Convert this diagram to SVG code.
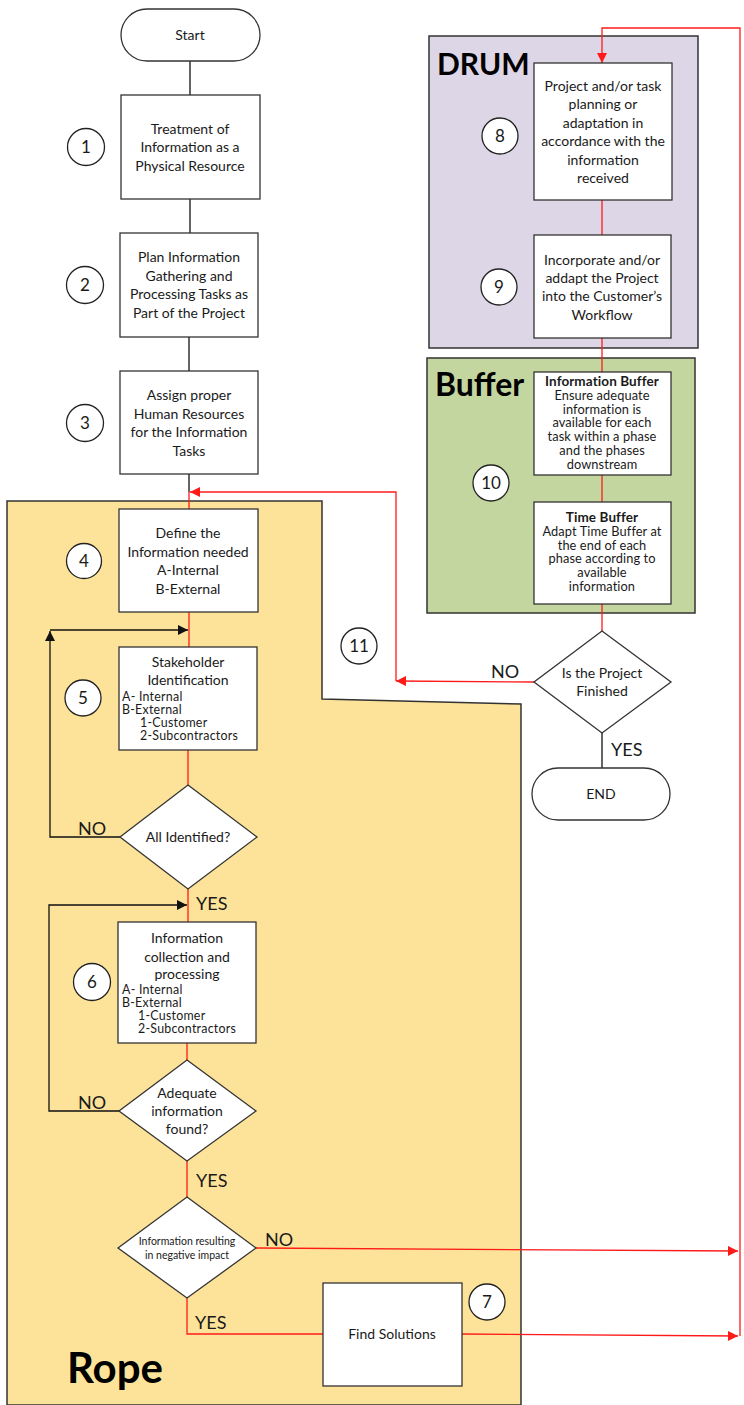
<svg xmlns="http://www.w3.org/2000/svg" width="744" height="1405" viewBox="0 0 744 1405">
  <defs>
    <style>
      text { font-family: Lato, "Open Sans", "Liberation Sans", sans-serif; fill: #1a1a1a; }
      .t { font-size: 14px; text-anchor: middle; }
      .tl { font-size: 12.4px; letter-spacing: 0.25px; }
      .ts { font-size: 12.8px; text-anchor: middle; letter-spacing: 0.1px; }
      .hb { font-size: 13.5px; font-weight: bold; }
      .tiny { font-size: 10.5px; text-anchor: middle; }
      .num { font-size: 17px; text-anchor: middle; }
      .lbl { font-size: 18px; }
      .big { font-weight: bold; fill: #000; }
      .box { fill: #fff; stroke: #333; stroke-width: 1.3; }
      .circ { fill: #fff; stroke: #222; stroke-width: 1.3; }
      .blk { fill: none; stroke: #111; stroke-width: 1.3; }
      .red { fill: none; stroke: #ff1a1a; stroke-width: 1.3; }
    </style>
    <marker id="ahRed" viewBox="0 0 10 10" refX="10" refY="5" markerWidth="14" markerHeight="10" markerUnits="userSpaceOnUse" orient="auto">
      <path d="M0,0 L10,5 L0,10 z" fill="#ff1a1a"/>
    </marker>
    <marker id="ahBlk" viewBox="0 0 10 10" refX="10" refY="5" markerWidth="14" markerHeight="10" markerUnits="userSpaceOnUse" orient="auto">
      <path d="M0,0 L10,5 L0,10 z" fill="#111"/>
    </marker>
  </defs>

  <rect width="744" height="1405" fill="#fff"/>

  <!-- swimlane regions -->
  <g id="rope-region">
    <path d="M7,501 L322,501 L322,699 L521,704 L521,1405 L7,1405 Z" fill="#fde399" stroke="#333" stroke-width="1.5"/>
    <text x="67" y="1383" class="big" font-size="42">Rope</text>
  </g>
  <g id="drum-region">
    <rect x="429" y="36" width="269" height="312" fill="#ddd6e6" stroke="#333" stroke-width="1.5"/>
    <text x="437" y="75" class="big" font-size="30">DRUM</text>
  </g>
  <g id="buffer-region">
    <rect x="427" y="358" width="268" height="255" fill="#c4d6a0" stroke="#333" stroke-width="1.5"/>
    <text x="435" y="396" class="big" font-size="32">Buffer</text>
  </g>

  <!-- connectors -->
  <g id="connectors">
    <line x1="190" y1="61" x2="190" y2="95" class="blk"/>
    <line x1="190" y1="199" x2="190" y2="233" class="blk"/>
    <line x1="189" y1="337" x2="189" y2="371" class="blk"/>
    <line x1="189" y1="474" x2="189" y2="492" class="blk"/>
    <line x1="189" y1="492" x2="189" y2="509" class="red"/>
    <line x1="189" y1="612" x2="189" y2="647" class="red"/>
    <line x1="188" y1="750" x2="188" y2="785" class="red"/>
    <line x1="188" y1="889" x2="188" y2="922" class="red"/>
    <line x1="187" y1="1043" x2="187" y2="1060" class="red"/>
    <line x1="187" y1="1161" x2="187" y2="1197" class="red"/>
    <!-- loop back from "All Identified?" -->
    <path d="M120,837 L50,837 L50,631" class="blk" marker-end="url(#ahBlk)"/>
    <path d="M50,630 L188,630" class="blk" marker-end="url(#ahBlk)"/>
    <!-- loop back from "Adequate information found?" -->
    <path d="M119,1111 L49,1111 L49,905 L187,905" class="blk" marker-end="url(#ahBlk)"/>
    <!-- negative impact branches -->
    <path d="M256,1248 L738,1251" class="red" marker-end="url(#ahRed)"/>
    <path d="M187,1298 L187,1334 L323,1334" class="red"/>
    <path d="M462,1334 L738,1336" class="red" marker-end="url(#ahRed)"/>
    <!-- feedback to Drum -->
    <path d="M740,1336 L740,28 L602,28 L602,63" class="red" marker-end="url(#ahRed)"/>
    <line x1="602" y1="200" x2="602" y2="235" class="red"/>
    <line x1="602" y1="338" x2="602" y2="372" class="red"/>
    <line x1="602" y1="475" x2="602" y2="502" class="red"/>
    <line x1="602" y1="604" x2="602" y2="631" class="red"/>
    <!-- project not finished: back to Rope -->
    <path d="M534,682 L396,681" class="red" marker-end="url(#ahRed)"/>
    <path d="M396,681 L396,492 L190,492" class="red" marker-end="url(#ahRed)"/>
    <line x1="602" y1="733" x2="602" y2="768" class="blk"/>
    <text x="78" y="835" class="lbl">NO</text>
    <text x="196" y="910" class="lbl">YES</text>
    <text x="78" y="1109" class="lbl">NO</text>
    <text x="196" y="1187" class="lbl">YES</text>
    <text x="265" y="1246" class="lbl">NO</text>
    <text x="195" y="1329" class="lbl">YES</text>
    <text x="491" y="678" class="lbl">NO</text>
    <text x="611" y="756" class="lbl">YES</text>
  </g>

  <g id="start">
    <rect x="121" y="9" width="139" height="52" rx="26" class="box"/>
    <text x="190" y="40" class="t" font-size="13">Start</text>
  </g>

  <g id="step1">
    <rect x="121" y="95" width="139" height="104" class="box"/>
    <text class="t"><tspan x="190" y="134">Treatment of</tspan><tspan x="190" y="152">Information as a</tspan><tspan x="190" y="171">Physical Resource</tspan></text>
    <circle cx="86" cy="147" r="18.5" class="circ"/>
    <text x="86" y="153" class="num">1</text>
  </g>

  <g id="step2">
    <rect x="120" y="233" width="138" height="104" class="box"/>
    <text class="t"><tspan x="189" y="262">Plan Information</tspan><tspan x="189" y="281">Gathering and</tspan><tspan x="189" y="299">Processing Tasks as</tspan><tspan x="189" y="318">Part of the Project</tspan></text>
    <circle cx="85" cy="285" r="18.5" class="circ"/>
    <text x="85" y="291" class="num">2</text>
  </g>

  <g id="step3">
    <rect x="120" y="371" width="138" height="103" class="box"/>
    <text class="t"><tspan x="189" y="400">Assign proper</tspan><tspan x="189" y="419">Human Resources</tspan><tspan x="189" y="437">for the Information</tspan><tspan x="189" y="456">Tasks</tspan></text>
    <circle cx="85" cy="423" r="18.5" class="circ"/>
    <text x="85" y="429" class="num">3</text>
  </g>

  <g id="step4">
    <rect x="119" y="509" width="139" height="103" class="box"/>
    <text class="t"><tspan x="188" y="538">Define the</tspan><tspan x="188" y="557">Information needed</tspan><tspan x="188" y="575">A-Internal</tspan><tspan x="188" y="594">B-External</tspan></text>
    <circle cx="84" cy="561" r="17.5" class="circ"/>
    <text x="84" y="567" class="num">4</text>
  </g>

  <g id="step5">
    <rect x="119" y="647" width="138" height="103" class="box"/>
    <text class="t"><tspan x="188" y="667">Stakeholder</tspan><tspan x="188" y="685">Identification</tspan></text>
    <text class="tl"><tspan x="122" y="701">A- Internal</tspan><tspan x="122" y="714">B-External</tspan><tspan x="140" y="727">1-Customer</tspan><tspan x="140" y="740">2-Subcontractors</tspan></text>
    <circle cx="83" cy="698" r="18" class="circ"/>
    <text x="83" y="704" class="num">5</text>
  </g>

  <g id="decision-identified">
    <polygon points="188,785 257,837 188,889 120,837" class="box"/>
    <text x="188" y="842" class="t">All Identified?</text>
  </g>

  <g id="step6">
    <rect x="118" y="922" width="138" height="121" class="box"/>
    <text class="t"><tspan x="187" y="943">Information</tspan><tspan x="187" y="962">collection and</tspan><tspan x="187" y="979">processing</tspan></text>
    <text class="tl"><tspan x="122" y="994">A- Internal</tspan><tspan x="122" y="1007">B-External</tspan><tspan x="138" y="1020">1-Customer</tspan><tspan x="138" y="1033">2-Subcontractors</tspan></text>
    <circle cx="92" cy="982" r="18.5" class="circ"/>
    <text x="92" y="988" class="num">6</text>
  </g>

  <g id="decision-adequate">
    <polygon points="187,1060 256,1111 187,1161 119,1111" class="box"/>
    <text class="t"><tspan x="187" y="1098">Adequate</tspan><tspan x="187" y="1116">information</tspan><tspan x="187" y="1134">found?</tspan></text>
  </g>

  <g id="decision-impact">
    <polygon points="187,1197 256,1248 187,1298 118,1248" class="box"/>
    <text class="tiny"><tspan x="187" y="1245">Information resulting</tspan><tspan x="187" y="1259">in negative impact</tspan></text>
  </g>

  <g id="step7">
    <rect x="323" y="1283" width="139" height="103" class="box"/>
    <text x="392" y="1339" class="t">Find Solutions</text>
    <circle cx="487" cy="1302" r="18" class="circ"/>
    <text x="487" y="1308" class="num">7</text>
  </g>

  <g id="step8">
    <rect x="534" y="63" width="138" height="137" class="box"/>
    <text class="t"><tspan x="603" y="91">Project and/or task</tspan><tspan x="603" y="109">planning or</tspan><tspan x="603" y="128">adaptation in</tspan><tspan x="603" y="146">accordance with the</tspan><tspan x="603" y="165">information</tspan><tspan x="603" y="183">received</tspan></text>
    <circle cx="500" cy="136" r="18" class="circ"/>
    <text x="500" y="142" class="num">8</text>
  </g>

  <g id="step9">
    <rect x="534" y="235" width="137" height="103" class="box"/>
    <text class="t"><tspan x="602" y="265">Incorporate and/or</tspan><tspan x="602" y="283">addapt the Project</tspan><tspan x="602" y="301">into the Customer’s</tspan><tspan x="602" y="320">Workflow</tspan></text>
    <circle cx="499" cy="287" r="18" class="circ"/>
    <text x="499" y="293" class="num">9</text>
  </g>

  <g id="step10">
    <rect x="534" y="372" width="137" height="103" class="box"/>
    <text class="ts"><tspan x="602" y="386" class="hb">Information Buffer</tspan><tspan x="602" y="399.8">Ensure adequate</tspan><tspan x="602" y="413.6">information is</tspan><tspan x="602" y="427.4">available for each</tspan><tspan x="602" y="441.2">task within a phase</tspan><tspan x="602" y="455">and the phases</tspan><tspan x="602" y="468.8">downstream</tspan></text>
    <rect x="534" y="502" width="137" height="102" class="box"/>
    <text class="ts"><tspan x="602" y="522" class="hb">Time Buffer</tspan><tspan x="602" y="535.8">Adapt Time Buffer at</tspan><tspan x="602" y="549.6">the end of each</tspan><tspan x="602" y="563.4">phase according to</tspan><tspan x="602" y="577.2">available</tspan><tspan x="602" y="591">information</tspan></text>
    <circle cx="491" cy="483" r="18" class="circ"/>
    <text x="491" y="489" class="num">10</text>
  </g>

  <g id="step11">
    <circle cx="359" cy="646" r="18" class="circ"/>
    <text x="359" y="652" class="num">11</text>
  </g>

  <g id="decision-finished">
    <polygon points="602,631 671,682 602,733 534,682" class="box"/>
    <text class="t"><tspan x="602" y="678">Is the Project</tspan><tspan x="602" y="696">Finished</tspan></text>
  </g>

  <g id="end">
    <rect x="532" y="768" width="138" height="52" rx="26" class="box"/>
    <text x="601" y="799" class="t" font-size="13">END</text>
  </g>
</svg>
